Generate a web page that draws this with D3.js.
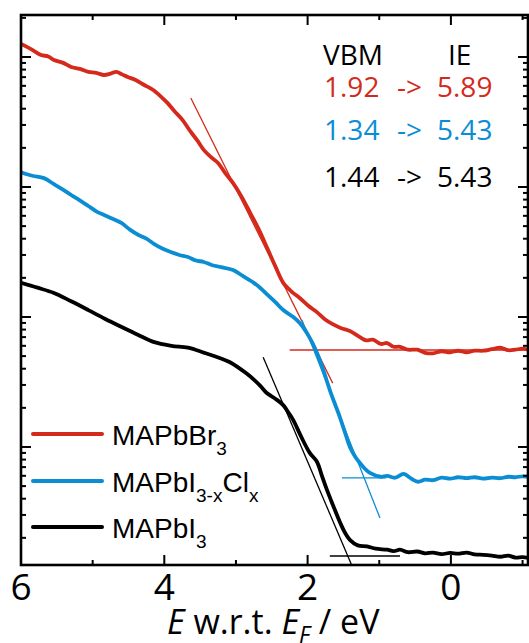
<!DOCTYPE html>
<html>
<head>
<meta charset="utf-8">
<script src="https://cdn.jsdelivr.net/npm/d3@7"></script>
<style>
  html, body { margin: 0; padding: 0; background: #fff; }
  svg { display: block; }
</style>
</head>
<body>
<svg id="chart" width="529" height="643"></svg>
<script>
var width = 529;
var height = 643;
var margin = { left: 21, right: 1, top: 15, bottom: 78 };

// traced spectra: [binding energy (eV), intensity (a.u.)]
var mapbbr3 = [[6.00, 1259], [5.86, 1150], [5.72, 1036], [5.62, 1010], [5.54, 948], [5.42, 905],
    [5.30, 838], [5.18, 810], [5.06, 767], [4.95, 755], [4.84, 727], [4.75, 745], [4.67, 767],
    [4.59, 735], [4.51, 702], [4.40, 665], [4.28, 609], [4.16, 560], [4.04, 492], [3.95, 440],
    [3.86, 384], [3.75, 330], [3.63, 265], [3.54, 228], [3.45, 193], [3.35, 170], [3.25, 153],
    [3.15, 128], [3.04, 107], [2.92, 84], [2.80, 63], [2.68, 47], [2.57, 34.5], [2.45, 24.5],
    [2.34, 18.3], [2.22, 15.6], [2.11, 14.0], [1.99, 12.2], [1.87, 10.9], [1.76, 9.6], [1.65, 8.8],
    [1.53, 8.2], [1.41, 7.8], [1.27, 7.0], [1.18, 6.6], [1.09, 6.7], [0.98, 6.2], [0.89, 6.3],
    [0.80, 5.9], [0.71, 5.9], [0.60, 5.6], [0.47, 5.6], [0.36, 5.3], [0.25, 5.25], [0.13, 5.45],
    [0.01, 5.35], [-0.10, 5.5], [-0.22, 5.35], [-0.33, 5.5], [-0.45, 5.5], [-0.57, 5.65],
    [-0.69, 5.8], [-0.80, 5.55], [-0.90, 5.6], [-1.00, 5.7], [-1.08, 5.6]];

var mapbi3clx = [[6.00, 130], [5.84, 122], [5.68, 117], [5.54, 105], [5.42, 96], [5.30, 86.8],
    [5.18, 79], [5.06, 71.4], [4.95, 65], [4.84, 60.9], [4.72, 57], [4.60, 52.9], [4.48, 47],
    [4.36, 42.7], [4.25, 40], [4.14, 36.4], [4.02, 33.5], [3.91, 31.6], [3.79, 30.0], [3.67, 28.9],
    [3.56, 27.2], [3.45, 26.5], [3.33, 25.0], [3.21, 24.2], [3.04, 23.0], [2.90, 20.6], [2.75, 18.3],
    [2.66, 16.7], [2.57, 15.0], [2.45, 13.0], [2.34, 11.3], [2.20, 10.0], [2.11, 9.0], [2.04, 8.0],
    [1.97, 6.9], [1.90, 5.8], [1.83, 4.67], [1.76, 3.6], [1.69, 2.74], [1.62, 2.15], [1.55, 1.70],
    [1.48, 1.30], [1.41, 1.00], [1.34, 0.85], [1.27, 0.753], [1.20, 0.68], [1.13, 0.631],
    [0.98, 0.59], [0.89, 0.60], [0.78, 0.58], [0.66, 0.62], [0.55, 0.57], [0.46, 0.54],
    [0.36, 0.56], [0.25, 0.555], [0.13, 0.58], [0.01, 0.57], [-0.10, 0.585], [-0.22, 0.575],
    [-0.33, 0.585], [-0.45, 0.57], [-0.57, 0.58], [-0.69, 0.575], [-0.80, 0.59], [-0.90, 0.585],
    [-1.00, 0.595], [-1.08, 0.59]];

var mapbi3 = [[6.00, 18.3], [5.77, 16.8], [5.54, 15.3], [5.30, 13.2], [5.06, 11.3], [4.83, 9.7],
    [4.60, 8.4], [4.37, 7.3], [4.14, 6.4], [3.90, 6.0], [3.67, 5.8], [3.44, 5.3], [3.21, 4.8],
    [3.09, 4.5], [2.97, 4.1], [2.86, 3.7], [2.75, 3.3], [2.66, 2.95], [2.57, 2.6], [2.45, 2.35],
    [2.34, 2.1], [2.27, 1.85], [2.20, 1.61], [2.09, 1.2], [1.97, 0.90], [1.87, 0.77], [1.80, 0.60],
    [1.73, 0.467], [1.64, 0.35], [1.55, 0.265], [1.48, 0.22], [1.41, 0.193], [1.30, 0.175],
    [1.17, 0.172], [1.05, 0.165], [0.89, 0.162], [0.80, 0.158], [0.71, 0.162], [0.60, 0.155],
    [0.47, 0.157], [0.36, 0.152], [0.25, 0.154], [0.13, 0.150], [0.01, 0.153], [-0.10, 0.151],
    [-0.22, 0.154], [-0.33, 0.149], [-0.45, 0.148], [-0.57, 0.146], [-0.69, 0.143], [-0.80, 0.146],
    [-0.90, 0.141], [-1.00, 0.142], [-1.08, 0.140]];

// onset fits: leading edge and background level
var fitRed = [[[3.63, 484], [1.65, 3.1]], [[2.25, 5.57], [-1.08, 5.57]]];
var fitBlue = [[[2.08, 9.5], [0.99, 0.284]], [[1.52, 0.578], [0.90, 0.578]]];
var fitBlack = [[[2.62, 4.9], [1.38, 0.1215]], [[1.69, 0.145], [0.71, 0.145]]];

var seriesNames = ['MAPbBr', 'MAPbI', 'MAPbI'];
var seriesColors = ['#d42a1c', '#0b8dd4', '#000000'];

var vbm = ['1.92', '1.34', '1.44'];
var ie = ['5.89', '5.43', '5.43'];

var xTicks = [6, 5, 4, 3, 2, 1, 0, -1];
var xLabels = [6, 4, 2, 0];

var svg = d3.select('#chart');

var x = d3.scaleLinear()
    .domain([6, -1.076])
    .range([margin.left, width - margin.right]);

var y = d3.scaleLog()
    .domain([0.1236, 2104])
    .range([height - margin.bottom, margin.top]);

var line = d3.line()
    .x(d => x(d[0]))
    .y(d => y(d[1]));

var smooth = d3.line()
    .x(d => x(d[0]))
    .y(d => y(d[1]))
    .curve(d3.curveCatmullRom.alpha(0.5));

svg.append('clipPath').attr('id', 'clip')
    .append('rect')
    .attr('x', margin.left).attr('y', margin.top)
    .attr('width', width - margin.left - margin.right)
    .attr('height', height - margin.top - margin.bottom);

var plot = svg.append('g').attr('clip-path', 'url(#clip)');

// fit lines under the data
[fitRed, fitBlue, fitBlack].forEach((fits, i) => {
    fits.forEach(f => {
        plot.append('path')
            .attr('d', line(f))
            .attr('fill', 'none')
            .attr('stroke', seriesColors[i])
            .attr('stroke-width', 1.3);
    });
});

[mapbbr3, mapbi3clx, mapbi3].forEach((data, i) => {
    plot.append('path')
        .attr('d', smooth(data))
        .attr('fill', 'none')
        .attr('stroke', seriesColors[i])
        .attr('stroke-width', 3.8)
        .attr('stroke-linejoin', 'round');
});

// ticks, all pointing inward
var yTicks = y.ticks().filter(v => v >= 0.2 && v <= 2000);
var isMajorY = v => Math.abs(Math.log10(v) - Math.round(Math.log10(v))) < 1e-6;

var axisG = svg.append('g')
    .attr('stroke', '#000')
    .attr('stroke-width', 2);

yTicks.forEach(v => {
    var len = isMajorY(v) ? 10 : 5;
    axisG.append('line')
        .attr('x1', x.range()[0]).attr('x2', x.range()[0] + len)
        .attr('y1', y(v)).attr('y2', y(v));
    axisG.append('line')
        .attr('x1', x.range()[1]).attr('x2', x.range()[1] - len)
        .attr('y1', y(v)).attr('y2', y(v));
});

xTicks.forEach(v => {
    var len = v % 2 === 0 ? 10 : 5;
    axisG.append('line')
        .attr('x1', x(v)).attr('x2', x(v))
        .attr('y1', y.range()[0]).attr('y2', y.range()[0] - len);
    axisG.append('line')
        .attr('x1', x(v)).attr('x2', x(v))
        .attr('y1', y.range()[1]).attr('y2', y.range()[1] + len);
});

svg.append('rect')
    .attr('x', margin.left).attr('y', margin.top)
    .attr('width', width - margin.left - margin.right)
    .attr('height', height - margin.top - margin.bottom)
    .attr('fill', 'none')
    .attr('stroke', '#000')
    .attr('stroke-width', 2.6);

svg.selectAll('.xlabel')
    .data(xLabels)
    .enter().append('text')
    .attr('class', 'xlabel')
    .attr('x', d => x(d))
    .attr('y', 600)
    .attr('text-anchor', 'middle')
    .attr('font-family', 'Open Sans')
    .attr('font-size', 37)
    .text(d => d);

var title = svg.append('text')
    .attr('x', 167)
    .attr('y', 634)
    .attr('font-family', 'Open Sans')
    .attr('font-size', 34);
title.append('tspan').attr('font-style', 'italic').text('E');
title.append('tspan').text(' w.r.t. ');
title.append('tspan').attr('font-style', 'italic').text('E');
title.append('tspan').attr('font-style', 'italic').attr('font-size', 23).attr('dy', 9).text('F');
title.append('tspan').attr('dy', -9).text(' / eV');

// legend
var legendY = [434, 481, 527];
var legendSubs = [['3'], ['3-x', 'Cl', 'x'], ['3']];
legendY.forEach((ly, i) => {
    svg.append('line')
        .attr('x1', 33).attr('x2', 102)
        .attr('y1', ly).attr('y2', ly)
        .attr('stroke', seriesColors[i])
        .attr('stroke-width', 4)
        .attr('stroke-linecap', 'round');
    var t = svg.append('text')
        .attr('x', 112)
        .attr('y', ly + 11)
        .attr('font-family', 'Liberation Sans')
        .attr('font-size', 28)
        .text(seriesNames[i]);
    var subs = legendSubs[i];
    t.append('tspan').attr('font-size', 19).attr('dy', 10).text(subs[0]);
    if (subs.length > 1) {
        t.append('tspan').attr('dy', -10).text(subs[1]);
        t.append('tspan').attr('font-size', 19).attr('dy', 10).text(subs[2]);
    }
});

// VBM / IE annotation
var noteFont = 'Open Sans';
svg.append('text').attr('x', 323).attr('y', 65)
    .attr('font-family', noteFont).attr('font-size', 28).text('VBM');
svg.append('text').attr('x', 448).attr('y', 65)
    .attr('font-family', noteFont).attr('font-size', 28).text('IE');

var rowY = [97, 140, 187];
rowY.forEach((ry, i) => {
    var g = svg.append('g')
        .attr('fill', seriesColors[i])
        .attr('font-family', noteFont)
        .attr('font-size', 28);
    g.append('text').attr('x', 324).attr('y', ry).text(vbm[i]);
    g.append('text').attr('x', 397).attr('y', ry).text('->');
    g.append('text').attr('x', 437).attr('y', ry).text(ie[i]);
});
</script>
</body>
</html>
